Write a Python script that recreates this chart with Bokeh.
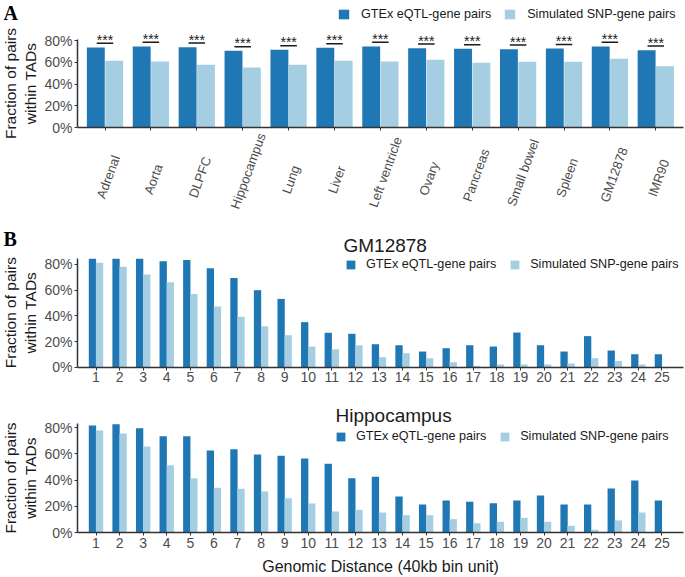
import math
from bokeh.plotting import figure
from bokeh.models import (Range1d, FixedTicker, NumeralTickFormatter, Legend,
                          LegendItem, ColumnDataSource)
from bokeh.transform import dodge
from bokeh.layouts import column
from bokeh.embed import file_html
from bokeh.resources import INLINE
from bokeh.core.properties import value

# ---------------- data ----------------
tissues = ["Adrenal", "Aorta", "DLPFC", "Hippocampus", "Lung", "Liver", "Left ventricle",
           "Ovary", "Pancreas", "Small bowel", "Spleen", "GM12878", "IMR90"]
a_gtex = [73.6, 74.5, 73.9, 70.5, 71.4, 73.3, 74.5, 72.9, 72.3, 72.0, 72.6, 74.5, 71.1]
a_sim = [61.3, 60.7, 57.6, 55.2, 57.6, 61.3, 60.7, 62.2, 59.5, 60.4, 60.4, 63.2, 56.4]
a_sig = ["***"] * 13

bins = list(range(1, 26))
gm_gtex = [84.4, 84.4, 84.4, 82.6, 83.4, 77.1, 69.4, 60.0, 53.2, 35.1, 26.8, 26.0, 17.9,
           17.1, 12.2, 14.8, 17.1, 16.1, 27.0, 17.1, 12.2, 24.2, 13.0, 10.1, 10.1]
gm_sim = [81.3, 78.2, 72.2, 66.2, 57.1, 47.3, 39.2, 31.9, 24.9, 16.1, 14.0, 17.1, 7.8,
          10.9, 7.0, 3.9, 1.0, 2.1, 2.1, 2.1, 2.9, 7.0, 4.9, 2.1, 0.0]
hip_gtex = [81.5, 82.5, 79.5, 73.4, 73.4, 62.5, 63.5, 59.5, 58.5, 56.5, 52.4, 41.5, 42.5,
            27.6, 21.5, 24.6, 23.5, 22.5, 24.6, 28.4, 21.5, 21.5, 33.7, 39.7, 24.6]
hip_sim = [77.7, 75.4, 65.6, 51.4, 41.5, 34.2, 33.4, 31.4, 26.3, 22.3, 16.2, 17.5, 15.4,
           13.4, 13.4, 10.4, 7.3, 8.4, 11.4, 8.4, 5.3, 2.3, 9.4, 15.4, 0.0]

series_names = ["GTEx eQTL-gene pairs", "Simulated SNP-gene pairs"]
y_ticks = [0, 0.2, 0.4, 0.6, 0.8]
y_title = "Fraction of pairs\nwithin TADs"
x_title_b = "Genomic Distance (40kb bin unit)"

# ---------------- style ----------------
FONT = "Liberation Sans"
SERIF = "Liberation Serif"
DARK = "#1f78b4"
LIGHT = "#a6cee3"
AXIS = "#333333"
TICKLAB = "#4d4d4d"
TEXT = "#1a1a1a"
W = 684
AXIS_L = 77    # pixel column of the y axis line
AXIS_R = 683   # right end of the x axis line
LEG_SIZE = "12.6px"

# Arial / Liberation Sans advance widths (1/1000 em) for label layout
CHAR_W = {"A": 667, "d": 556, "r": 333, "e": 556, "n": 556, "a": 556, "l": 222,
          "o": 556, "t": 278, "D": 722, "L": 556, "P": 667, "F": 611, "C": 722,
          "H": 722, "i": 222, "p": 556, "c": 500, "m": 833, "u": 556, "s": 500,
          "g": 556, "v": 500, "O": 778, "y": 500, "S": 667, "b": 556, "w": 722,
          "G": 778, "M": 833, "I": 278, "R": 722, " ": 278, "f": 278}


def text_width(s, size):
    return sum(CHAR_W.get(c, 556) for c in s) * size / 1000.0


class Frame:
    """Maps canvas pixels to data for a figure whose frame fills the canvas."""

    def __init__(self, h, x_px, x_val, ppu_x, y_px, ppu_y):
        self.h, self.x_px, self.x_val, self.ppu_x = h, x_px, x_val, ppu_x
        self.y_px, self.ppu_y = y_px, ppu_y

    def X(self, px):
        return self.x_val + (px - self.x_px) / self.ppu_x

    def Y(self, py):
        return (self.y_px - py) / self.ppu_y


def make_fig(fr):
    p = figure(width=W, height=fr.h, x_range=Range1d(fr.X(0), fr.X(W)),
               y_range=Range1d(fr.Y(fr.h), fr.Y(0)), output_backend="svg",
               toolbar_location=None, min_border_left=0, min_border_right=0,
               min_border_top=0, min_border_bottom=0)
    p.xgrid.visible = False
    p.ygrid.visible = False
    p.outline_line_color = None
    p.background_fill_color = "white"
    p.border_fill_color = "white"
    for ax in (p.xaxis[0], p.yaxis[0]):
        ax.axis_line_color = AXIS
        ax.axis_line_width = 1.5
        ax.major_tick_line_color = AXIS
        ax.major_tick_out = 3
        ax.major_tick_in = 0
        ax.minor_tick_line_color = None
        ax.major_label_text_font = FONT
        ax.major_label_text_font_size = "14px"
        ax.major_label_text_color = TICKLAB
        ax.major_label_standoff = 2
    p.xaxis.fixed_location = 0
    p.yaxis.fixed_location = fr.X(AXIS_L)
    p.xaxis.bounds = (fr.X(AXIS_L), fr.X(AXIS_R))
    p.yaxis.ticker = FixedTicker(ticks=y_ticks)
    p.yaxis.formatter = NumeralTickFormatter(format="0%")
    return p


def add_text(p, fr, text, px, py, size, font=FONT, bold=False, align="left",
             angle=0.0, color=TEXT):
    """py is the vertical centre of the text line, in canvas pixels."""
    p.text(x=[fr.X(px)], y=[fr.Y(py)], text=[text], angle=angle,
           text_font=value(font), text_font_size=value(size),
           text_font_style="bold" if bold else "normal", text_color=color,
           text_align=align, text_baseline="middle", text_line_height=1.15)


def y_title_text(p, fr, top_px, bottom_px):
    add_text(p, fr, y_title, 20, (top_px + bottom_px) / 2, "15.5px",
             align="center", angle=math.pi / 2)


def add_legend(p, fr, r1, r2, left_px, bottom_px, glyph_w, glyph_h, standoff, spacing):
    leg = Legend(items=[LegendItem(label=series_names[0], renderers=[r1]),
                        LegendItem(label=series_names[1], renderers=[r2])],
                 orientation="horizontal", location=(left_px, fr.h - bottom_px),
                 label_text_font=FONT, label_text_font_size=LEG_SIZE,
                 label_text_color=TEXT, glyph_width=glyph_w, glyph_height=glyph_h,
                 label_height=glyph_h, label_standoff=standoff, spacing=spacing,
                 padding=0, margin=0, border_line_color=None,
                 background_fill_alpha=0)
    p.add_layout(leg)


# ---------------- panel A ----------------
frA = Frame(h=226, x_px=104.5, x_val=0, ppu_x=45.9, y_px=127, ppu_y=108.75)
pA = make_fig(frA)
pA.yaxis.bounds = (0, 0.81)
pA.xaxis.ticker = FixedTicker(ticks=list(range(len(tissues))))
pA.xaxis.major_label_text_color = None

LAB_SIZE = 13
ANG = math.radians(70)
lab_w = [text_width(t, LAB_SIZE) for t in tissues]
srcA = ColumnDataSource(dict(
    idx=list(range(len(tissues))),
    tissue=tissues,
    gtex=[v / 100 for v in a_gtex],
    sim=[v / 100 for v in a_sim],
    sig_y=[(v + 3.8) / 100 for v in a_gtex],
    star=a_sig,
    zero=[0.0] * len(tissues),
    lab_dx=[0.5 + 0.062 * w for w in lab_w],
    lab_dy=[57 - 0.17 * w for w in lab_w],
))
rA1 = pA.vbar(x=dodge("idx", -0.2), top="gtex", width=0.39, source=srcA,
              fill_color=DARK, line_color=None)
rA2 = pA.vbar(x=dodge("idx", 0.2), top="sim", width=0.39, source=srcA,
              fill_color=LIGHT, line_color=None)
pA.segment(x0=dodge("idx", -0.18), y0="sig_y", x1=dodge("idx", 0.18), y1="sig_y",
           line_color=TEXT, line_width=1.5, source=srcA)
pA.text(x="idx", y="sig_y", text="star", source=srcA, text_align="center",
        text_baseline="middle", y_offset=-3.5, text_font=value(FONT),
        text_font_size=value("14px"), text_color=TEXT)
pA.text(x="idx", y="zero", text="tissue", source=srcA, x_offset="lab_dx",
        y_offset="lab_dy", angle=ANG, text_align="center", text_baseline="middle",
        text_font=value(FONT), text_font_size=value(f"{LAB_SIZE}px"),
        text_color=TICKLAB)
add_legend(pA, frA, rA1, rA2, 337, 21, 13, 12, 11, 12)
add_text(pA, frA, "A", 3, 12.5, "20px", font=SERIF, bold=True, color="black")
y_title_text(pA, frA, frA.y_px - 0.81 * frA.ppu_y, frA.y_px)


# ---------------- panel B ----------------
def make_b(fr, title, gtex, sim, y_top, title_px, title_py, leg_px, leg_bottom,
           letter=None, xlabel=None):
    p = make_fig(fr)
    p.yaxis.bounds = (0, y_top)
    p.xaxis.ticker = FixedTicker(ticks=bins)
    src = ColumnDataSource(dict(bin=bins, gtex=[v / 100 for v in gtex],
                                sim=[v / 100 for v in sim]))
    r1 = p.vbar(x=dodge("bin", -0.15), top="gtex", width=0.31, source=src,
                fill_color=DARK, line_color=None)
    r2 = p.vbar(x=dodge("bin", 0.15), top="sim", width=0.31, source=src,
                fill_color=LIGHT, line_color=None)
    add_legend(p, fr, r1, r2, leg_px, leg_bottom, 11, 11, 10, 13)
    add_text(p, fr, title, title_px, title_py, "19px")
    y_title_text(p, fr, fr.y_px - y_top * fr.ppu_y, fr.y_px)
    if letter:
        add_text(p, fr, letter, 3, 12.5, "20px", font=SERIF, bold=True, color="black")
    if xlabel:
        add_text(p, fr, xlabel, (AXIS_L + AXIS_R) / 2, 176.4, "16px", align="center")
    return p


frB1 = Frame(h=164, x_px=95.5, x_val=1, ppu_x=23.58, y_px=140.7, ppu_y=128.4)
pB1 = make_b(frB1, "GM12878", gm_gtex, gm_sim, 0.85, 343, 19, 345, 45, letter="B")

frB2 = Frame(h=186, x_px=95.5, x_val=1, ppu_x=23.58, y_px=142.3, ppu_y=131.6)
pB2 = make_b(frB2, "Hippocampus", hip_gtex, hip_sim, 0.833, 335, 25, 335, 53,
             xlabel=x_title_b)

layout = column(pA, pB1, pB2, spacing=0)
open("out.html", "w").write(file_html(layout, INLINE))
